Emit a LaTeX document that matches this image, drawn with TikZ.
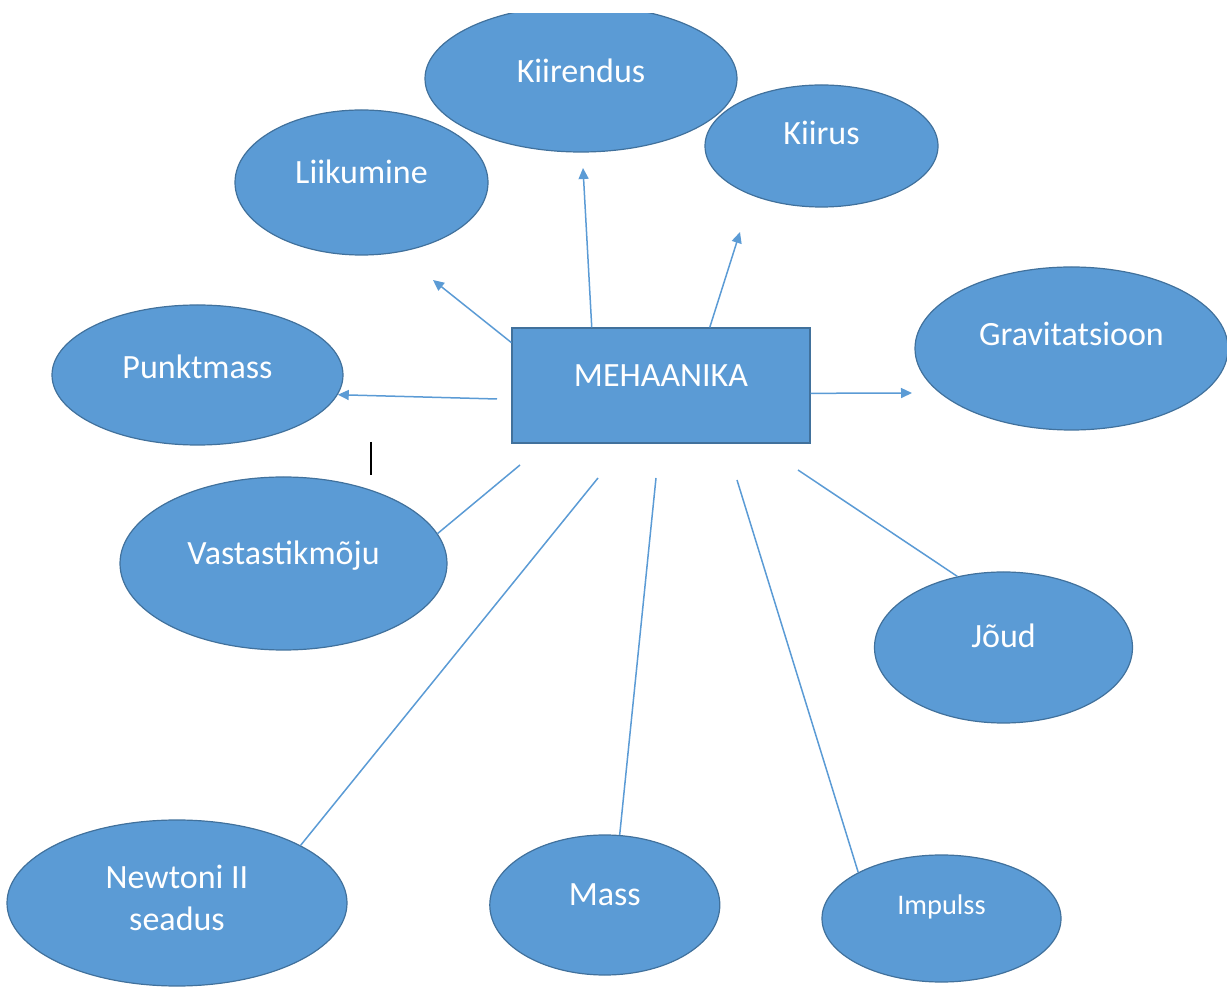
\documentclass[tikz,border=0pt]{standalone}
\usepackage{fontspec}
\setmainfont{Carlito}
\usetikzlibrary{shapes.geometric,arrows.meta}
\definecolor{wordblue}{HTML}{5B9BD5}
\definecolor{wordedge}{HTML}{41719C}

\begin{document}
\begin{tikzpicture}[x=0.5pt, y=-0.5pt,
    bubble/.style={ellipse, fill=wordblue, draw=wordedge, line width=0.6pt,
        inner sep=0pt, text=white, font=\fontsize{17}{21}\selectfont},
    lift/.style={text height=10.7pt, text depth=#1},
    conn/.style={wordblue, line width=0.75pt},
    pointer/.style={conn, -{Triangle[length=5.5pt, width=5pt]}}]
    \useasboundingbox (0,0) rectangle (1227,988);
    % Top bubble, cut off by the upper edge
    \begin{scope}
        \clip (0,14) rectangle (1227,988);
        \node[bubble, minimum width=156pt, minimum height=73.3pt, lift=7pt] (kiiren) at (581,78.7) {Kiirendus};
    \end{scope}
    % The other bubbles
    \node[bubble, minimum width=126.5pt, minimum height=72.5pt, lift=10pt] (liik) at (361.5,182.5) {Liikumine};
    \node[bubble, minimum width=116.5pt, minimum height=61pt, lift=12pt] (kiirus) at (821.5,146) {Kiirus};
    \node[bubble, minimum width=156.5pt, minimum height=81.5pt, lift=13.5pt] (grav) at (1071.5,348.5) {Gravitatsioon};
    \node[bubble, minimum width=145.5pt, minimum height=70pt, lift=7pt] (punkt) at (197.5,375) {Punktmass};
    \node[bubble, minimum width=163.5pt, minimum height=86.5pt, lift=9.5pt] (vast) at (283.5,563.5) {Vastastikmõju};
    \node[bubble, minimum width=129pt, minimum height=75.5pt, lift=10.5pt] (joud) at (1003.5,647.5) {Jõud};
    \node[bubble, minimum width=170pt, minimum height=83pt, align=center, text depth=5pt] (newton) at (177,903) {Newtoni II\\seadus};
    \node[bubble, minimum width=115pt, minimum height=70pt, lift=10pt] (mass) at (604.8,905) {Mass};
    \node[bubble, minimum width=119.5pt, minimum height=63.5pt, font=\fontsize{14.2}{17}\selectfont,
        text height=9pt, text depth=13.5pt] (impulss) at (941.5,918.5) {Impulss};
    % Central box
    \node[bubble, rectangle, minimum width=149pt, minimum height=57.5pt, lift=10pt] (mech) at (661,385.5) {MEHAANIKA};
    % Loose ends of the connectors
    \coordinate (tLiik) at (433,280);
    \coordinate (tKiiren) at (583,168);
    \coordinate (tKiirus) at (740,232);
    \coordinate (tGrav) at (912,393);
    \coordinate (sPunkt) at (497,399);
    \coordinate (sVast) at (520,465);
    \coordinate (sNewton) at (598,478);
    \coordinate (sMass) at (656,478);
    \coordinate (sImpulss) at (737,480);
    \coordinate (sJoud) at (798,470);
    % Arrows
    \draw[pointer] (mech.164) -- (tLiik);
    \draw[pointer] (mech.140) -- (tKiiren);
    \draw[pointer] (mech.50) -- (tKiirus);
    \draw[pointer] (mech.-3) -- (tGrav);
    \draw[pointer] (sPunkt) -- (punkt.-8);
    % Plain lines
    \draw[conn] (sVast) -- (vast.11);
    \draw[conn] (sNewton) -- (newton.25);
    \draw[conn] (sMass) -- (mass.78);
    \draw[conn] (sImpulss) -- (impulss.151);
    \draw[conn] (sJoud) -- (joud.123);
    % Stray cursor mark
    \draw[line width=1pt] (371,442) -- (371,475);
\end{tikzpicture}
\end{document}
